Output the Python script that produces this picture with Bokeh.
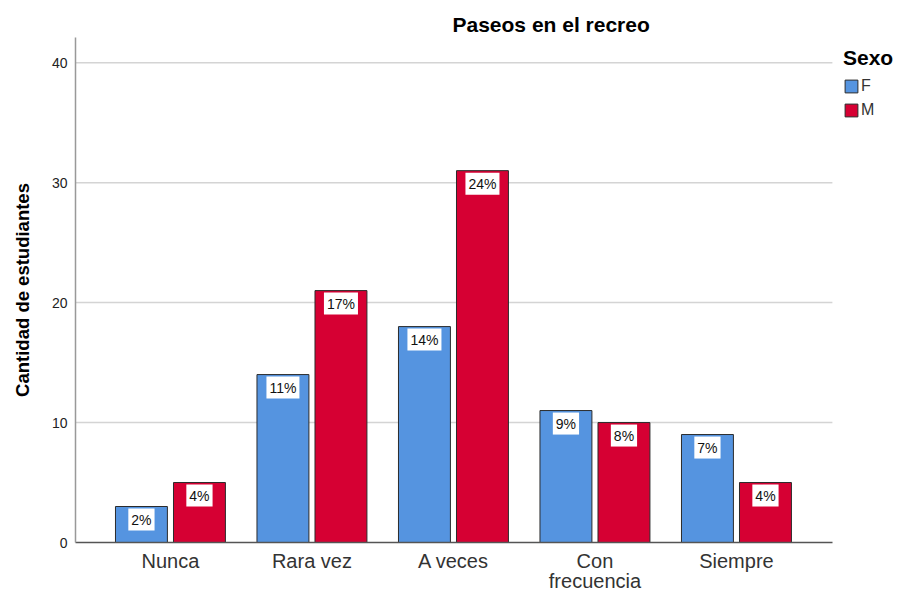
from bokeh.plotting import figure
from bokeh.models import ColumnDataSource, Range1d, Legend, LegendItem, FixedTicker
from bokeh.transform import dodge
from bokeh.core.properties import value
from bokeh.embed import file_html
from bokeh.resources import INLINE

categories = ["Nunca", "Rara vez", "A veces", "Con\nfrecuencia", "Siempre"]
f_counts = [3, 14, 18, 11, 9]
m_counts = [5, 21, 31, 10, 5]
f_pct = ["2%", "11%", "14%", "9%", "7%"]
m_pct = ["4%", "17%", "24%", "8%", "4%"]
y_ticks = [0, 10, 20, 30, 40]
series_names = ["F", "M"]

FONT = "Liberation Sans"
BLUE = "#5594E0"
RED = "#D60033"

# layout constants (category units)
X_START = -0.671
X_AXIS_END = 4.678
X_FRAME_END = 5.124
Y_END = 42.1

idx = list(range(len(categories)))
src = ColumnDataSource(dict(x=idx, f=f_counts, m=m_counts, fp=f_pct, mp=m_pct))
grid_src = ColumnDataSource(dict(t=y_ticks[1:]))

p = figure(
    x_range=Range1d(X_START, X_FRAME_END),
    y_range=Range1d(0, Y_END),
    width=897, height=595,
    output_backend="svg", toolbar_location=None,
    min_border_left=75, min_border_right=2, min_border_top=37, min_border_bottom=51,
)
p.outline_line_color = None
p.background_fill_color = "white"
p.border_fill_color = "white"
p.xgrid.grid_line_color = None
p.ygrid.grid_line_color = None

# horizontal gridlines, only across the axis extent
p.segment(x0=X_START, x1=X_AXIS_END, y0="t", y1="t", source=grid_src,
          line_color="#d4d4d4", line_width=1.5, level="underlay")

off = 0.205
bw = 0.367
rf = p.vbar(x=dodge("x", -off), top="f", width=bw, source=src,
            fill_color=BLUE, line_color="#2b2b2b", line_width=1)
rm = p.vbar(x=dodge("x", off), top="m", width=bw, source=src,
            fill_color=RED, line_color="#2b2b2b", line_width=1)

for col, txt, d in (("f", "fp", -off), ("m", "mp", off)):
    p.text(x=dodge("x", d), y=col, text=txt, source=src,
           text_align="center", text_baseline="top", y_offset=2,
           text_font=value(FONT), text_font_size="14px", text_color="#111111",
           background_fill_color="white", padding=3)

# y axis
p.yaxis.ticker = FixedTicker(ticks=y_ticks)
p.yaxis.major_tick_line_color = None
p.yaxis.minor_tick_line_color = None
p.yaxis.axis_line_color = "#999999"
p.yaxis.axis_line_width = 1.5
p.yaxis.major_label_text_font = FONT
p.yaxis.major_label_text_font_size = "14px"
p.yaxis.major_label_text_color = "#222222"
p.yaxis.major_label_standoff = 2
p.yaxis.axis_label = "Cantidad de estudiantes"
p.yaxis.axis_label_text_font = FONT
p.yaxis.axis_label_text_font_size = "18.5px"
p.yaxis.axis_label_text_font_style = "bold"
p.yaxis.axis_label_text_color = "black"
p.yaxis.axis_label_standoff = 16

# x axis
p.xaxis.ticker = FixedTicker(ticks=idx)
p.xaxis.major_label_overrides = {i: c for i, c in zip(idx, categories)}
p.xaxis.bounds = (X_START, X_AXIS_END)
p.xaxis.major_tick_line_color = None
p.xaxis.minor_tick_line_color = None
p.xaxis.axis_line_color = "#555555"
p.xaxis.axis_line_width = 1.5
p.xaxis.major_label_text_font = FONT
p.xaxis.major_label_text_font_size = "20px"
p.xaxis.major_label_text_line_height = 0.95
p.xaxis.major_label_text_color = "#333333"
p.xaxis.major_label_standoff = 1

# title
p.title.text = "Paseos en el recreo"
p.title.align = "left"
p.title.offset = 377
p.title.text_font = FONT
p.title.text_font_size = "21px"
p.title.text_font_style = "bold"
p.title.text_color = "black"
p.title.standoff = 4

legend = Legend(items=[LegendItem(label=series_names[0], renderers=[rf]),
                       LegendItem(label=series_names[1], renderers=[rm])],
                title="Sexo", location=(768, 423))
legend.title_text_font = FONT
legend.title_text_font_size = "21px"
legend.title_text_font_style = "bold"
legend.title_text_color = "black"
legend.title_standoff = 7
legend.label_text_font = FONT
legend.label_text_font_size = "16px"
legend.label_text_color = "#333333"
legend.glyph_width = 16
legend.glyph_height = 16
legend.label_height = 16
legend.label_standoff = 2
legend.spacing = 6
legend.padding = 4
legend.margin = 0
legend.border_line_color = None
legend.background_fill_alpha = 0
p.add_layout(legend)

open("out.html", "w").write(file_html(p, INLINE))
